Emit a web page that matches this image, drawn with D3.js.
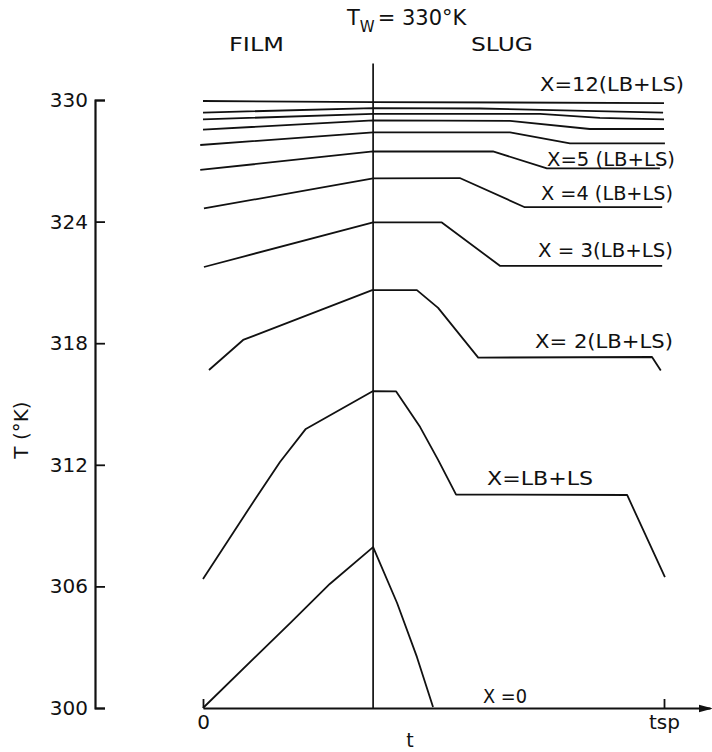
<!DOCTYPE html>
<html>
<head>
<meta charset="utf-8">
<script src="https://cdn.jsdelivr.net/npm/d3@7"></script>
<style>
body { margin: 0; background: #fff; }
text { font-family: "DejaVu Sans", sans-serif; fill: #111; }
</style>
</head>
<body>
<div id="chart"></div>
<script>
// temperature axis (K) and time axis (fraction of slug period)
var yTicks = [300, 306, 312, 318, 324, 330];
var xTicks = [0, 1];
var xTickLabels = ["0", "tsp"];
var interfaceTime = 0.369;
var interfaceTop = 331.8;

// curves: [t / tsp, T (K)]
var curveX12 = [[0, 329.95], [0.37, 329.9], [1.0, 329.85]];
var curveX10 = [[0, 329.38], [0.369, 329.6], [0.601, 329.58], [0.998, 329.38]];
var curveX8 = [[0, 329.04], [0.369, 329.32], [0.731, 329.32], [0.861, 329.12], [1.0, 329.04]];
var curveX7 = [[0, 328.54], [0.369, 328.99], [0.666, 328.97], [0.839, 328.57], [1.0, 328.57]];
var curveX6 = [[-0.006, 327.78], [0.369, 328.4], [0.666, 328.4], [0.796, 327.86], [1.002, 327.86]];
var curveX5 = [[-0.006, 326.55], [0.369, 327.46], [0.629, 327.46], [0.746, 326.63], [0.991, 326.63]];
var curveX4 = [[0.002, 324.65], [0.369, 326.13], [0.557, 326.15], [0.698, 324.71], [0.996, 324.71]];
var curveX3 = [[0.002, 321.76], [0.369, 323.96], [0.518, 323.96], [0.644, 321.82], [0.996, 321.82]];
var curveX2 = [[0.013, 316.68], [0.087, 318.16], [0.367, 320.62], [0.464, 320.62], [0.51, 319.74],
               [0.597, 317.29], [0.974, 317.32], [0.993, 316.65]];
var curveX1 = [[0, 306.37], [0.102, 309.92], [0.167, 312.14], [0.223, 313.77], [0.369, 315.64],
               [0.419, 315.62], [0.471, 313.86], [0.51, 312.24], [0.549, 310.53], [0.92, 310.51],
               [1.002, 306.46]];
var curveX0 = [[0, 300], [0.189, 304.19], [0.275, 306.12], [0.369, 307.94], [0.421, 305.18],
               [0.464, 302.52], [0.499, 300.05]];

var curves = [curveX12, curveX10, curveX8, curveX7, curveX6, curveX5,
              curveX4, curveX3, curveX2, curveX1, curveX0];

var curveLabels = ["X=12(LB+LS)", "X=5 (LB+LS)", "X =4 (LB+LS)", "X = 3(LB+LS)",
                   "X= 2(LB+LS)", "X=LB+LS", "X =0"];

var width = 712, height = 752;

var svg = d3.select("#chart").append("svg")
    .attr("width", width)
    .attr("height", height);

var x = d3.scaleLinear().domain([0, 1]).range([203, 664]);
var y = d3.scaleLinear().domain([300, 330]).range([708, 100]);

svg.append("defs").append("marker")
    .attr("id", "arrow")
    .attr("markerUnits", "userSpaceOnUse")
    .attr("viewBox", "0 -5 14 10")
    .attr("refX", 12)
    .attr("refY", 0)
    .attr("markerWidth", 14)
    .attr("markerHeight", 10)
    .attr("orient", "auto")
    .append("path")
    .attr("d", "M0,-4L14,0L0,4Z")
    .attr("fill", "#111");

// y axis, ticks pointing inward
var yAxis = svg.append("g")
    .attr("transform", "translate(95,0)")
    .call(d3.axisLeft(y).tickValues(yTicks).tickSizeInner(-10).tickSizeOuter(-10).tickPadding(7));
yAxis.selectAll("text").style("font-size", "20px").attr("fill", "#111");
yAxis.select(".domain").attr("stroke", "#111").attr("stroke-width", 2.2);
yAxis.selectAll(".tick line").attr("stroke", "#111").attr("stroke-width", 1.8);

// x axis with arrow
var xAxisScale = x.copy().domain([0, x.invert(710)]).range([203, 710]);
var xAxis = svg.append("g")
    .attr("transform", "translate(0," + y(300) + ")")
    .call(d3.axisBottom(xAxisScale).tickValues(xTicks)
        .tickFormat(function (d, i) { return xTickLabels[i]; })
        .tickSizeInner(-9).tickSizeOuter(0).tickPadding(7));
xAxis.selectAll("text").style("font-size", "20px").attr("fill", "#111");
xAxis.select(".domain").attr("stroke", "#111").attr("stroke-width", 2).attr("marker-end", "url(#arrow)");
xAxis.selectAll(".tick line").attr("stroke", "#111").attr("stroke-width", 1.8);

// film / slug interface
svg.append("line")
    .attr("x1", x(interfaceTime)).attr("x2", x(interfaceTime))
    .attr("y1", y(interfaceTop)).attr("y2", y(300))
    .attr("stroke", "#111")
    .attr("stroke-width", 1.7);

var line = d3.line()
    .x(function (d) { return x(d[0]); })
    .y(function (d) { return y(d[1]); });

svg.append("g").selectAll("path")
    .data(curves)
    .enter()
    .append("path")
    .attr("d", line)
    .attr("fill", "none")
    .attr("stroke", "#111")
    .attr("stroke-width", 1.8)
    .attr("stroke-linejoin", "round");

// curve labels: [left x, baseline y, width]
var labelPos = [[540, 91, 144], [547, 166, 128], [541, 200, 132], [538, 257, 135],
                [535, 348, 138], [487, 485, 106], [483, 703, 44]];
svg.append("g").selectAll("text")
    .data(curveLabels)
    .enter()
    .append("text")
    .attr("x", function (d, i) { return labelPos[i][0]; })
    .attr("y", function (d, i) { return labelPos[i][1]; })
    .attr("textLength", function (d, i) { return labelPos[i][2]; })
    .attr("lengthAdjust", "spacingAndGlyphs")
    .style("font-size", "19px")
    .text(function (d) { return d; });

// titles
var title = svg.append("text")
    .attr("x", 347)
    .attr("y", 25)
    .style("font-size", "21px");
title.append("tspan").text("T");
title.append("tspan").attr("dy", 7).style("font-size", "15px").text("W");
title.append("tspan").attr("dy", -7).attr("dx", 3).text("= 330°K");

svg.append("text").attr("x", 229).attr("y", 51)
    .attr("textLength", 55).attr("lengthAdjust", "spacingAndGlyphs")
    .style("font-size", "19px").text("FILM");
svg.append("text").attr("x", 471).attr("y", 51)
    .attr("textLength", 62).attr("lengthAdjust", "spacingAndGlyphs")
    .style("font-size", "19px").text("SLUG");

svg.append("text")
    .attr("x", 410)
    .attr("y", 747)
    .attr("text-anchor", "middle")
    .style("font-size", "19px")
    .text("t");

svg.append("text")
    .attr("transform", "translate(28,430) rotate(-90)")
    .attr("text-anchor", "middle")
    .style("font-size", "20px")
    .text("T (°K)");
</script>
</body>
</html>
